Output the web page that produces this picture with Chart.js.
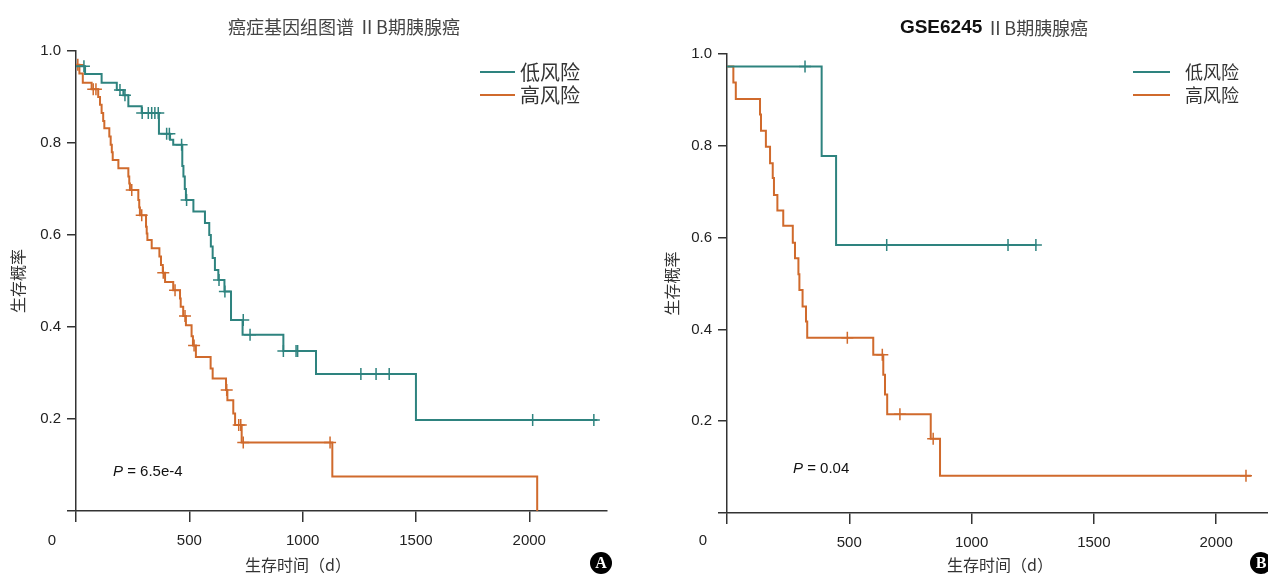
<!DOCTYPE html>
<html>
<head>
<meta charset="utf-8">
<script src="https://cdn.jsdelivr.net/npm/chart.js"></script>
<style>
  body { margin: 0; background: #fff; }
  .panel { position: absolute; top: 0; width: 634px; height: 574px; }
</style>
</head>
<body>
<div class="panel" style="left:0"><canvas id="chartA" width="634" height="574"></canvas></div>
<div class="panel" style="left:634px"><canvas id="chartB" width="634" height="574"></canvas></div>
<script>
// ---- A: TCGA, stage IIB ----
const tcgaLowTime = [0, 40, 113, 180, 209, 231, 290, 366, 415, 429, 469, 474, 480, 485, 518, 569, 588, 595, 603, 613, 628, 655, 684, 735, 915, 1059, 1500, 2300];
const tcgaLowSurv = [0.967, 0.95, 0.931, 0.915, 0.904, 0.88, 0.865, 0.82, 0.807, 0.796, 0.75, 0.727, 0.70, 0.676, 0.651, 0.626, 0.60, 0.575, 0.55, 0.524, 0.502, 0.477, 0.415, 0.383, 0.348, 0.298, 0.198, 0.198];
const tcgaLowCensTime = [35, 194, 216, 292, 319, 334, 348, 363, 400, 412, 466, 488, 631, 657, 738, 768, 915, 971, 978, 1257, 1324, 1382, 2015, 2285];
const tcgaLowCensSurv = [0.967, 0.915, 0.904, 0.865, 0.865, 0.865, 0.865, 0.865, 0.82, 0.82, 0.796, 0.676, 0.502, 0.477, 0.415, 0.383, 0.348, 0.348, 0.348, 0.298, 0.298, 0.298, 0.198, 0.198];

const tcgaHighTime = [0, 15, 30, 69, 98, 106, 113, 120, 125, 147, 153, 158, 162, 187, 231, 235, 238, 275, 279, 282, 309, 312, 315, 334, 368, 375, 383, 393, 429, 459, 462, 473, 485, 510, 516, 529, 594, 603, 662, 668, 694, 702, 731, 1131, 2035];
const tcgaHighSurv = [0.97, 0.951, 0.931, 0.917, 0.90, 0.883, 0.865, 0.848, 0.832, 0.814, 0.796, 0.78, 0.763, 0.745, 0.727, 0.712, 0.698, 0.676, 0.66, 0.643, 0.618, 0.603, 0.589, 0.571, 0.553, 0.535, 0.518, 0.498, 0.48, 0.462, 0.444, 0.424, 0.404, 0.38, 0.36, 0.335, 0.31, 0.288, 0.263, 0.241, 0.212, 0.187, 0.149, 0.075, 0];
const tcgaHighCensTime = [8, 76, 88, 246, 290, 385, 437, 481, 521, 665, 718, 727, 738, 1121];
const tcgaHighCensSurv = [0.97, 0.917, 0.917, 0.698, 0.643, 0.518, 0.48, 0.424, 0.36, 0.263, 0.187, 0.187, 0.149, 0.149];

// ---- B: GSE6245, stage IIB ----
const gseLowTime = [0, 387, 446, 1265];
const gseLowSurv = [0.973, 0.778, 0.584, 0.584];
const gseLowCensTime = [319, 653, 1149, 1263];
const gseLowCensSurv = [0.973, 0.584, 0.584, 0.584];

const gseHighTime = [0, 26, 36, 135, 139, 159, 176, 187, 192, 206, 230, 269, 278, 292, 296, 309, 323, 328, 598, 639, 646, 655, 833, 871, 2142];
const gseHighSurv = [0.973, 0.938, 0.902, 0.868, 0.833, 0.798, 0.762, 0.73, 0.693, 0.659, 0.626, 0.589, 0.555, 0.52, 0.486, 0.45, 0.417, 0.382, 0.345, 0.301, 0.258, 0.215, 0.162, 0.081, 0.081];
const gseHighCensTime = [492, 635, 707, 843, 2122];
const gseHighCensSurv = [0.382, 0.345, 0.215, 0.162, 0.081];

const groupLabels = ['低风险', '高风险'];
const xTicks = [0, 500, 1000, 1500, 2000];
const yTicks = [0, 0.2, 0.4, 0.6, 0.8, 1.0];

const TEAL = '#2e837f';
const ORANGE = '#d06a2c';
const AXIS = '#333';
const SANS = '"Liberation Sans", Arial, sans-serif';
const CJK = '"Noto Sans CJK SC", sans-serif';

const pts = (xs, ys) => xs.map((x, i) => ({ x: x, y: ys[i] }));

function curve(label, color, xs, ys) {
  return { label, data: pts(xs, ys), borderColor: color, borderWidth: 2, stepped: true,
           pointRadius: 0, fill: false };
}
function marks(color, xs, ys) {
  return { label: '', data: pts(xs, ys), showLine: false, pointStyle: 'cross', pointRadius: 6,
           pointBorderWidth: 1.5, pointBorderColor: color, borderColor: color };
}

// titles, legend, p value, origin label, badge
const decor = {
  id: 'decor',
  afterDraw(chart, args, o) {
    const ctx = chart.ctx;
    const xs = chart.scales.x;
    ctx.save();
    ctx.textBaseline = 'middle';

    // title made of parts with different fonts
    let w = 0;
    o.title.forEach(p => { ctx.font = p.font; w += ctx.measureText(p.text).width; });
    let tx = o.titleX - w / 2;
    o.title.forEach(p => {
      ctx.font = p.font; ctx.fillStyle = p.color; ctx.textAlign = 'left';
      ctx.fillText(p.text, tx, o.titleY);
      tx += ctx.measureText(p.text).width;
    });

    // legend
    chart.data.datasets.slice(0, 2).forEach((ds, i) => {
      const y = o.legendY + i * 23;
      ctx.strokeStyle = ds.borderColor; ctx.lineWidth = 2;
      ctx.beginPath(); ctx.moveTo(o.legendX, y); ctx.lineTo(o.legendX + o.legendLine, y); ctx.stroke();
      ctx.font = o.legendFont + 'px ' + CJK; ctx.fillStyle = '#333'; ctx.textAlign = 'left';
      ctx.fillText(ds.label, o.legendX + o.legendLine + o.legendGap, y);
    });

    // P value
    ctx.fillStyle = '#111'; ctx.textAlign = 'left';
    ctx.font = 'italic 15px ' + SANS;
    ctx.fillText('P', o.pX, o.pY);
    const pw = ctx.measureText('P').width;
    ctx.font = '15px ' + SANS;
    ctx.fillText(' = ' + o.pText, o.pX + pw, o.pY);

    // origin "0" label, set left of the tick
    ctx.font = '15px ' + SANS; ctx.fillStyle = '#222'; ctx.textAlign = 'center';
    ctx.fillText('0', xs.getPixelForValue(0) - 24, 541);

    // x axis title
    ctx.font = '16px ' + CJK; ctx.fillStyle = '#333';
    ctx.fillText('生存时间（d）', o.xTitleX, 565);

    // panel badge
    ctx.fillStyle = '#000';
    ctx.beginPath(); ctx.arc(o.badgeX, 563, 11, 0, Math.PI * 2); ctx.fill();
    ctx.fillStyle = '#fff'; ctx.font = 'bold 16px "Liberation Serif", serif';
    ctx.fillText(o.badge, o.badgeX, 564);
    ctx.restore();
  }
};

function makeChart(id, sets, xMax, layout, deco) {
  return new Chart(document.getElementById(id), {
    type: 'line',
    data: { datasets: sets },
    plugins: [decor],
    options: {
      responsive: false,
      animation: false,
      layout: { padding: layout.padding, autoPadding: false },
      plugins: { legend: { display: false }, tooltip: { enabled: false }, decor: deco },
      scales: {
        x: {
          type: 'linear', min: 0, max: xMax,
          afterFit: s => { s.height = layout.xHeight; },
          afterBuildTicks: s => { s.ticks = xTicks.map(v => ({ value: v })); },
          ticks: { padding: 10, color: '#222', font: { family: SANS, size: 15 },
                   callback: v => (v === 0 ? '' : String(v)) },
          grid: { drawOnChartArea: false, tickLength: 11, color: AXIS, lineWidth: 1.5 },
          border: { color: AXIS, width: 1.5 }
        },
        y: {
          min: 0, max: 1,
          afterFit: s => { s.width = layout.yWidth; },
          afterBuildTicks: s => { s.ticks = yTicks.map(v => ({ value: v })); },
          ticks: { padding: 6, color: '#222', font: { family: SANS, size: 15 },
                   callback: v => (Math.abs(v) < 1e-9 ? '' : v.toFixed(1)) },
          grid: { drawOnChartArea: false, tickLength: 9, color: AXIS, lineWidth: 1.5 },
          border: { color: AXIS, width: 1.5 },
          title: { display: true, text: '生存概率', color: '#333',
                   font: { family: CJK, size: 16 }, padding: { top: layout.yTitlePad, bottom: 0 } }
        }
      }
    }
  });
}

makeChart('chartA', [
  curve(groupLabels[0], TEAL, tcgaLowTime, tcgaLowSurv),
  curve(groupLabels[1], ORANGE, tcgaHighTime, tcgaHighSurv),
  marks(TEAL, tcgaLowCensTime, tcgaLowCensSurv),
  marks(ORANGE, tcgaHighCensTime, tcgaHighCensSurv)
], 2343,
{ padding: { top: 51, right: 27, left: 0, bottom: 0 }, yWidth: 76, xHeight: 63, yTitlePad: 8 },
{
  title: [{ text: '癌症基因组图谱 ⅡB期胰腺癌', font: '18px ' + CJK, color: '#444' }],
  titleX: 344, titleY: 27,
  legendX: 480, legendY: 72, legendLine: 35, legendGap: 5, legendFont: 20,
  pX: 113, pY: 472, pText: '6.5e-4',
  xTitleX: 298, badge: 'A', badgeX: 601
});

makeChart('chartB', [
  curve(groupLabels[0], TEAL, gseLowTime, gseLowSurv),
  curve(groupLabels[1], ORANGE, gseHighTime, gseHighSurv),
  marks(TEAL, gseLowCensTime, gseLowCensSurv),
  marks(ORANGE, gseHighCensTime, gseHighCensSurv)
], 2212,
{ padding: { top: 54, right: 0, left: 0, bottom: 0 }, yWidth: 93, xHeight: 61, yTitlePad: 28 },
{
  title: [{ text: 'GSE6245', font: 'bold 19px ' + SANS, color: '#111' },
          { text: ' ⅡB期胰腺癌', font: '18px ' + CJK, color: '#444' }],
  titleX: 360, titleY: 28,
  legendX: 499, legendY: 72, legendLine: 37, legendGap: 15, legendFont: 18,
  pX: 159, pY: 469, pText: '0.04',
  xTitleX: 366, badge: 'B', badgeX: 627
});
</script>
</body>
</html>
